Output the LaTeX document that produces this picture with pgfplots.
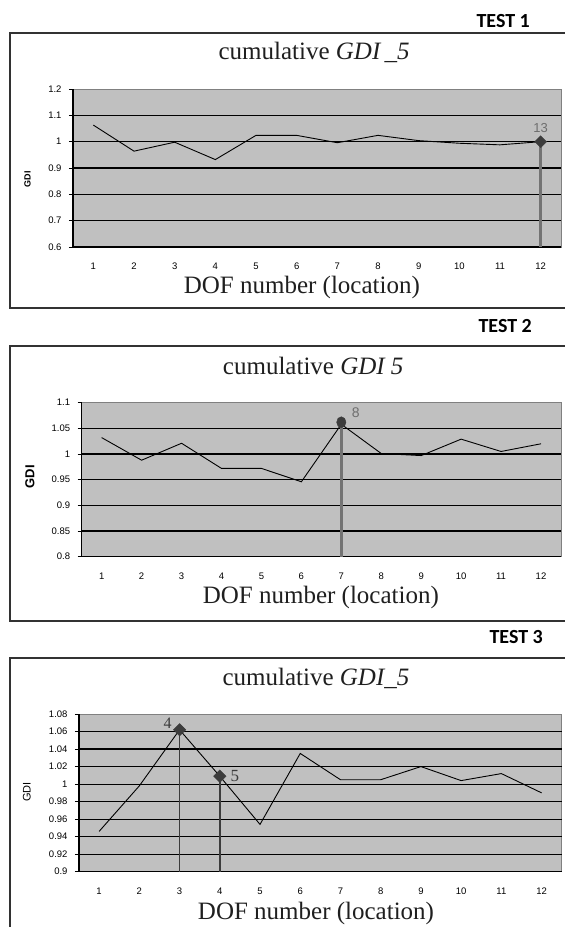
\documentclass[border=0pt]{standalone}
\usepackage{fontspec}
\setmainfont{Liberation Serif}
\newfontfamily\arialf{Liberation Sans}
\newfontfamily\calib{Carlito}
\usepackage{pgfplots}
\pgfplotsset{compat=1.18}
\definecolor{plotbg}{RGB}{192,192,192}
\definecolor{framec}{RGB}{50,50,50}
\definecolor{markc}{RGB}{60,60,60}
\definecolor{dropc}{RGB}{115,115,115}
\definecolor{labc}{RGB}{110,110,110}

\pgfplotsset{gdistyle/.style={
  scale only axis,
  anchor=south west,
  xmin=0.5, xmax=12.5,
  xtick={1,2,3,4,5,6,7,8,9,10,11,12},
  xticklabels={1,2,3,4,5,6,7,8,9,10,11,12},
  minor xtick={0.5,1.5,2.5,3.5,4.5,5.5,6.5,7.5,8.5,9.5,10.5,11.5,12.5},
  xtick style={draw=none},
  minor x tick style={black, line width=0.9pt},
  ytick style={black, line width=0.9pt},
  major tick length=4pt, minor tick length=4pt,
  tick align=outside,
  axis x line*=bottom, axis y line*=left,
  axis line style={black, line width=1.3pt, -},
  axis background/.style={fill=plotbg, draw=gray, line width=0.6pt},
  ymajorgrids, grid style={black, line width=1.2pt},
  extra y tick style={grid=none},
  xticklabel style={font=\arialf\fontsize{9.5}{10}\selectfont, yshift=-8.5pt},
  yticklabel style={font=\arialf\fontsize{9.5}{10}\selectfont, xshift=-4pt},
  title style={font=\fontsize{25}{28}\selectfont, anchor=base, text=black!88},
  xlabel style={font=\fontsize{25}{28}\selectfont, anchor=base, text=black!88},
  ylabel style={anchor=center},
  clip=false,
}}

\begin{document}
\begin{tikzpicture}
\path[use as bounding box] (0pt,0pt) rectangle (565pt,-927pt);

% frames
\draw[framec, line width=2pt] (570pt,-33pt) -- (10pt,-33pt) -- (10pt,-308pt) -- (570pt,-308pt);
\draw[framec, line width=2pt] (570pt,-346pt) -- (10pt,-346pt) -- (10pt,-620.5pt) -- (570pt,-620.5pt);
\draw[framec, line width=2pt] (570pt,-658pt) -- (10pt,-658pt) -- (10pt,-935pt);

\node[anchor=base west, font=\calib\bfseries\fontsize{20}{24}\selectfont] at (473pt,-27pt) {TEST 1};
\node[anchor=base west, font=\calib\bfseries\fontsize{20}{24}\selectfont] at (475pt,-332pt) {TEST 2};
\node[anchor=base west, font=\calib\bfseries\fontsize{20}{24}\selectfont] at (486pt,-643pt) {TEST 3};

% ---------------- TEST 1 ----------------
\begin{axis}[gdistyle, at={(73pt,-247pt)}, width=488pt, height=158pt,
  ymin=0.6, ymax=1.2,
  ytick={0.6,0.7,0.8,0.9,1,1.1}, yticklabels={0.6,0.7,0.8,0.9,1,1.1},
  extra y ticks={1.2}, extra y tick labels={1.2},
  title={cumulative \textit{GDI\,\_5}},
  title style={at={(axis description cs:0.494,1.146)}},
  xlabel={DOF number (location)},
  xlabel style={at={(axis description cs:0.469,-0.297)}},
  ylabel={GDI},
  ylabel style={at={(axis description cs:-0.093,0.43)}, font=\arialf\bfseries\fontsize{9}{10}\selectfont}]
\addplot[dropc, line width=2.6pt, mark=none] coordinates {(12,0.6) (12,1.0)};
\addplot[black, line width=0.9pt, mark=none] coordinates {
(1,1.063) (2,0.964) (3,0.998) (4,0.932) (5,1.024) (6,1.024)
(7,0.996) (8,1.024) (9,1.004) (10,0.994) (11,0.988) (12,1.0)};
\addplot[only marks, mark=square*, mark size=4.2pt,
  mark options={rotate=45, fill=markc, draw=markc},
  point meta=explicit symbolic, nodes near coords,
  nodes near coords style={font=\arialf\fontsize{13}{14}\selectfont, text=labc, anchor=center, yshift=14pt}]
  coordinates {(12,1.0) [13]};
\end{axis}

% ---------------- TEST 2 ----------------
\begin{axis}[gdistyle, at={(81.7pt,-556.7pt)}, width=479.3pt, height=154pt,
  ymin=0.8, ymax=1.1,
  ytick={0.8,0.85,0.9,0.95,1,1.05}, yticklabels={0.8,0.85,0.9,0.95,1,1.05},
  extra y ticks={1.1}, extra y tick labels={1.1},
  title={cumulative \textit{GDI\ 5}},
  title style={at={(axis description cs:0.483,1.147)}},
  xlabel={DOF number (location)},
  xlabel style={at={(axis description cs:0.499,-0.307)}},
  ylabel={GDI},
  ylabel style={at={(axis description cs:-0.108,0.518)}, font=\arialf\bfseries\fontsize{13}{14}\selectfont}]
\addplot[dropc, line width=2.6pt, mark=none] coordinates {(7,0.8) (7,1.062)};
\addplot[black, line width=0.9pt, mark=none] coordinates {
(1,1.032) (2,0.988) (3,1.021) (4,0.972) (5,0.972) (6,0.946)
(7,1.058) (8,1.001) (9,0.997) (10,1.029) (11,1.005) (12,1.020)};
\addplot[only marks, mark=*, mark size=5.5pt,
  mark options={xscale=0.85, fill=markc, draw=markc},
  point meta=explicit symbolic, nodes near coords,
  nodes near coords style={font=\arialf\fontsize{14}{15}\selectfont, text=labc, anchor=center, xshift=14.5pt, yshift=9.5pt}]
  coordinates {(7,1.062) [8]};
\end{axis}

% ---------------- TEST 3 ----------------
\begin{axis}[gdistyle, at={(79pt,-871.7pt)}, width=482.7pt, height=157.7pt,
  ymin=0.9, ymax=1.08,
  ytick={0.9,0.92,0.94,0.96,0.98,1,1.02,1.04,1.06},
  yticklabels={0.9,0.92,0.94,0.96,0.98,1,1.02,1.04,1.06},
  extra y ticks={1.08}, extra y tick labels={1.08},
  title={cumulative \textit{GDI\_5}},
  title style={at={(axis description cs:0.491,1.14)}},
  xlabel={DOF number (location)},
  xlabel style={at={(axis description cs:0.491,-0.306)}},
  ylabel={GDI},
  ylabel style={at={(axis description cs:-0.108,0.505)}, font=\arialf\fontsize{11}{12}\selectfont}]
\addplot[markc, line width=1.5pt, mark=none] coordinates {(3,0.9) (3,1.062)};
\addplot[markc, line width=1.5pt, mark=none] coordinates {(4,0.9) (4,1.009)};
\addplot[black, line width=0.9pt, mark=none] coordinates {
(1,0.946) (2,0.998) (3,1.062) (4,1.009) (5,0.954) (6,1.035)
(7,1.005) (8,1.005) (9,1.020) (10,1.004) (11,1.012) (12,0.990)};
\addplot[only marks, mark=square*, mark size=4.4pt,
  mark options={rotate=45, fill=markc, draw=markc},
  point meta=explicit symbolic, nodes near coords,
  nodes near coords style={font=\fontsize{16}{17}\selectfont, text=markc, anchor=center, xshift=-12pt, yshift=7pt}]
  coordinates {(3,1.062) [4]};
\addplot[only marks, mark=square*, mark size=4.4pt,
  mark options={rotate=45, fill=markc, draw=markc},
  point meta=explicit symbolic, nodes near coords,
  nodes near coords style={font=\fontsize{17}{18}\selectfont, text=markc, anchor=center, xshift=15pt, yshift=0pt}]
  coordinates {(4,1.009) [5]};
\end{axis}
\end{tikzpicture}
\end{document}
